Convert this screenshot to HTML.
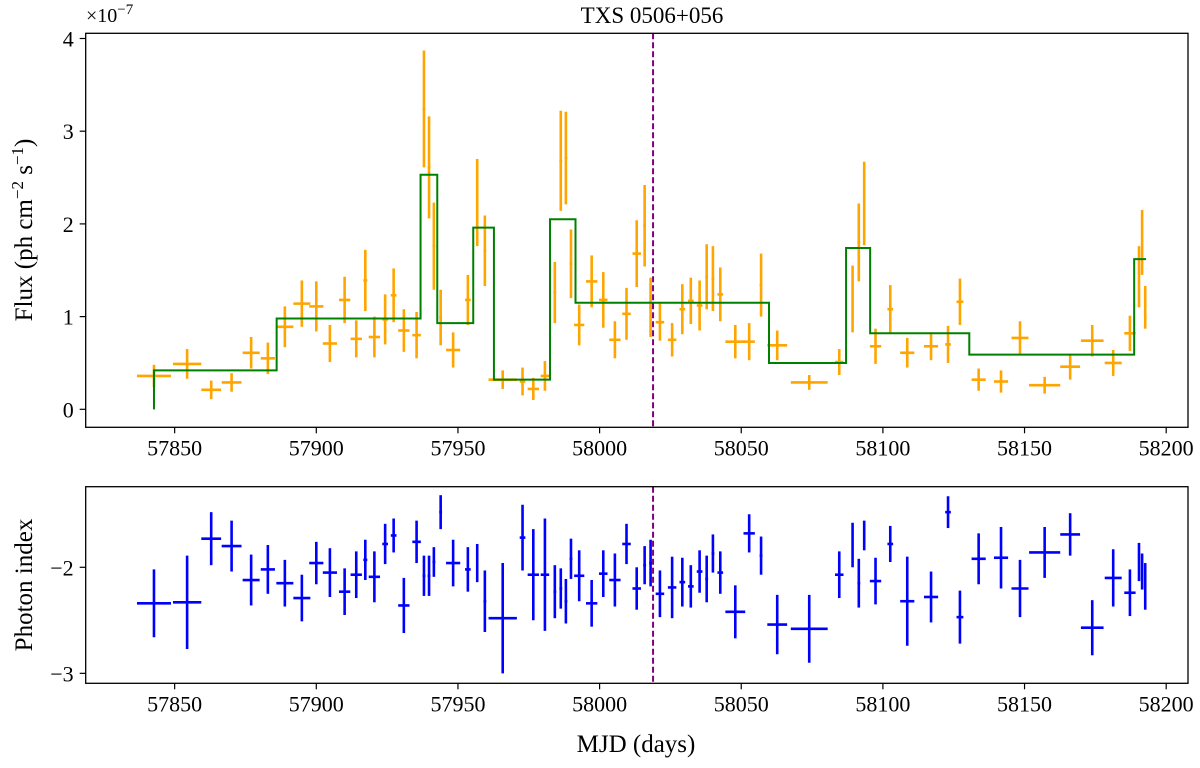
<!DOCTYPE html>
<html><head><meta charset="utf-8"><style>
body{margin:0;background:#fff;}
svg text{font-family:"Liberation Serif",serif;fill:#000;}
</style></head><body>
<svg id="chart" width="1200" height="763" viewBox="0 0 1200 763" xmlns="http://www.w3.org/2000/svg">
<text x="652" y="23" font-size="23" text-anchor="middle">TXS 0506+056</text>
<g id="topPanel"></g>
<g id="botPanel"></g>
<text x="636" y="752" font-size="25" text-anchor="middle">MJD (days)</text>
<text transform="translate(32,230) rotate(-90)" font-size="25" text-anchor="middle">Flux (ph cm<tspan dy="-9" font-size="17">−2</tspan><tspan dy="9"> s</tspan><tspan dy="-9" font-size="17">−1</tspan><tspan dy="9">)</tspan></text>
<text transform="translate(32,585) rotate(-90)" font-size="25" text-anchor="middle">Photon index</text>
<text x="86" y="22" font-size="20">×10<tspan dy="-8" font-size="15">−7</tspan></text>
</svg>
<script>
const mjd=[57842.7,57854.4,57862.9,57870.1,57877.0,57882.9,57888.9,57894.9,57900.0,57904.8,57910.0,57914.1,57917.3,57920.5,57924.3,57927.3,57930.9,57935.4,57938.0,57939.8,57941.5,57943.9,57948.3,57953.5,57956.8,57959.5,57965.8,57972.8,57976.6,57980.7,57984.2,57986.3,57988.1,57989.9,57992.8,57997.2,58001.3,58005.4,58009.5,58013.1,58015.9,58018.0,58021.3,58025.6,58029.2,58032.2,58035.3,58037.8,58040.0,58042.6,58047.9,58052.8,58057.0,58062.7,58074.0,58084.6,58089.3,58091.5,58093.4,58097.4,58102.6,58108.6,58117.0,58123.0,58127.2,58133.8,58141.7,58148.4,58157.1,58166.1,58173.9,58181.3,58187.2,58190.4,58191.5,58192.6];
const mjdErr=[6,5,3.5,3.5,3,2.5,3,3,2.5,2.5,2,2,0.7,2,1,1,2,1.5,0.5,0.5,0.5,0.5,2.5,1,0.3,0.5,5,1,2,1.5,0.5,0.5,0.5,0.5,1.8,2,1.5,2,1.5,1.5,0.5,0.5,1.5,1.5,1,1,1,0.5,0.5,1,3.5,2,0.5,3.5,6.5,1.5,0.3,0.5,0.3,2,1,2.5,2.5,1,1.2,2.5,2.5,3,5.5,3.5,4,3,2,0.3,0.3,0.3];
const flux=[0.36,0.49,0.21,0.29,0.61,0.55,0.89,1.14,1.11,0.71,1.18,0.76,1.39,0.78,0.97,1.23,0.85,0.80,3.24,2.61,1.76,0.99,0.64,1.18,2.23,1.71,0.32,0.30,0.22,0.36,1.26,2.68,2.71,1.57,0.91,1.38,1.18,0.75,1.03,1.68,1.98,1.10,0.94,0.75,1.08,1.17,1.12,1.43,1.41,1.24,0.73,0.73,1.34,0.69,0.29,0.51,1.19,1.80,2.22,0.68,1.08,0.61,0.68,0.70,1.16,0.32,0.30,0.77,0.26,0.46,0.74,0.50,0.82,1.43,1.80,1.10];
const fluxErr=[0.12,0.16,0.1,0.1,0.17,0.17,0.22,0.25,0.27,0.2,0.25,0.2,0.33,0.22,0.27,0.29,0.23,0.25,0.63,0.55,0.47,0.3,0.19,0.27,0.47,0.38,0.1,0.15,0.12,0.16,0.33,0.54,0.5,0.37,0.22,0.28,0.3,0.2,0.28,0.36,0.44,0.32,0.2,0.18,0.27,0.25,0.27,0.35,0.35,0.29,0.18,0.2,0.34,0.16,0.08,0.14,0.36,0.42,0.45,0.19,0.26,0.16,0.15,0.2,0.25,0.12,0.12,0.18,0.09,0.14,0.17,0.14,0.19,0.33,0.35,0.23];
const photonIndex=[-2.34,-2.33,-1.73,-1.80,-2.12,-2.02,-2.15,-2.29,-1.96,-2.05,-2.23,-2.07,-1.93,-2.09,-1.78,-1.70,-2.36,-1.76,-2.08,-2.08,-1.95,-1.48,-1.96,-2.02,-1.96,-2.32,-2.48,-1.72,-2.07,-2.07,-2.23,-2.20,-2.32,-1.92,-2.08,-2.34,-2.06,-2.12,-1.78,-2.20,-1.98,-1.96,-2.25,-2.19,-2.14,-2.18,-2.04,-2.11,-1.87,-2.05,-2.42,-1.68,-1.89,-2.54,-2.58,-2.07,-1.79,-2.15,-1.70,-2.13,-1.78,-2.32,-2.28,-1.48,-2.47,-1.92,-1.91,-2.20,-1.86,-1.69,-2.57,-2.10,-2.24,-1.95,-2.04,-2.18];
const indexErr=[0.32,0.44,0.25,0.24,0.24,0.23,0.22,0.22,0.2,0.23,0.22,0.22,0.19,0.24,0.19,0.16,0.26,0.2,0.19,0.19,0.14,0.16,0.22,0.21,0.18,0.29,0.52,0.31,0.43,0.53,0.25,0.19,0.21,0.19,0.24,0.22,0.22,0.25,0.19,0.2,0.18,0.22,0.22,0.29,0.23,0.2,0.2,0.22,0.18,0.2,0.25,0.18,0.18,0.28,0.32,0.22,0.21,0.23,0.14,0.22,0.17,0.42,0.24,0.15,0.25,0.24,0.29,0.27,0.24,0.2,0.26,0.27,0.22,0.18,0.17,0.22];
const blockEdges=[57842.7,57886.0,57936.8,57942.7,57955.4,57962.7,57982.5,57991.5,58059.8,58087.0,58095.5,58130.5,58188.7,58192.9];
const blockLevels=[0.42,0.98,2.53,0.93,1.96,0.32,2.05,1.15,0.50,1.74,0.82,0.59,1.62];
const xTicks=[57850,57900,57950,58000,58050,58100,58150,58200];
const fluxTicks=[0,1,2,3,4];
const indexTicks=[-2,-3];
const neutrinoMJD=58018.87;

const NS='http://www.w3.org/2000/svg';
const X0=85.7,X1=1188,D0=57818.6,D1=58207.7;
const xs=d=>X0+(d-D0)/(D1-D0)*(X1-X0);
const TY0=33.3,TY1=427.3,TV0=4.056,TV1=-0.194;
const yt=v=>TY0+(TV0-v)/(TV0-TV1)*(TY1-TY0);
const BY0=486.7,BY1=683.3,BV0=-1.24,BV1=-3.094;
const yb=v=>BY0+(BV0-v)/(BV0-BV1)*(BY1-BY0);
function mk(tag,attrs,parent){const e=document.createElementNS(NS,tag);for(const k in attrs)e.setAttribute(k,attrs[k]);parent.appendChild(e);return e;}
function panel(g,y0,y1,ticksY,yf){
  xTicks.forEach(t=>{const x=xs(t);
    const l=mk('line',{x1:x,x2:x,y1:y1,y2:y1+6,stroke:'#000','stroke-width':1.2},g);
    
    
    const tx=mk('text',{x:x,y:y1+28,'font-size':22,'text-anchor':'middle'},g);tx.textContent=String(t);
    
    
  });
  ticksY.forEach(t=>{const y=yf(t);
    const l=mk('line',{x1:X0-6,x2:X0,y1:y,y2:y,stroke:'#000','stroke-width':1.2},g);
    
    
    const tx=mk('text',{x:X0-12,y:y+8,'font-size':22,'text-anchor':'end'},g);tx.textContent=t<0?'−'+Math.abs(t):String(t);
    
    
  });
}
const topG=document.getElementById('topPanel'),botG=document.getElementById('botPanel');
panel(topG,TY0,TY1,fluxTicks,yt);
panel(botG,BY0,BY1,indexTicks,yb);
let d='M'+xs(blockEdges[0])+','+yt(0);
blockLevels.forEach((v,i)=>{d+=' L'+xs(blockEdges[i])+','+yt(v)+' L'+xs(blockEdges[i+1])+','+yt(v);});
function errs(g,vals,errsArr,yf,color,name){
  mjd.forEach((m,i)=>{
    const gg=mk('g',{stroke:color,'stroke-width':2.6},g);
    
    
    const x=xs(m),y=yf(vals[i]);
    mk('line',{x1:xs(m-mjdErr[i]),x2:xs(m+mjdErr[i]),y1:y,y2:y},gg);
    mk('line',{x1:x,x2:x,y1:yf(vals[i]-errsArr[i]),y2:yf(vals[i]+errsArr[i])},gg);
  });
}
errs(topG,flux,fluxErr,yt,'#FFA500','flux-point');
const st=mk('path',{d:d,fill:'none',stroke:'#008000','stroke-width':2},topG);


errs(botG,photonIndex,indexErr,yb,'#0000FF','index-point');
[[topG,TY0,TY1],[botG,BY0,BY1]].forEach(([g,a,b])=>{
  const v=mk('line',{x1:xs(neutrinoMJD),x2:xs(neutrinoMJD),y1:a,y2:b,stroke:'#800080','stroke-width':2,'stroke-dasharray':'6,3'},g);
  
  
  const r=mk('rect',{x:X0,y:a,width:X1-X0,height:b-a,fill:'none',stroke:'#000','stroke-width':1.3},g);
  
  
});
</script>
</body></html>
